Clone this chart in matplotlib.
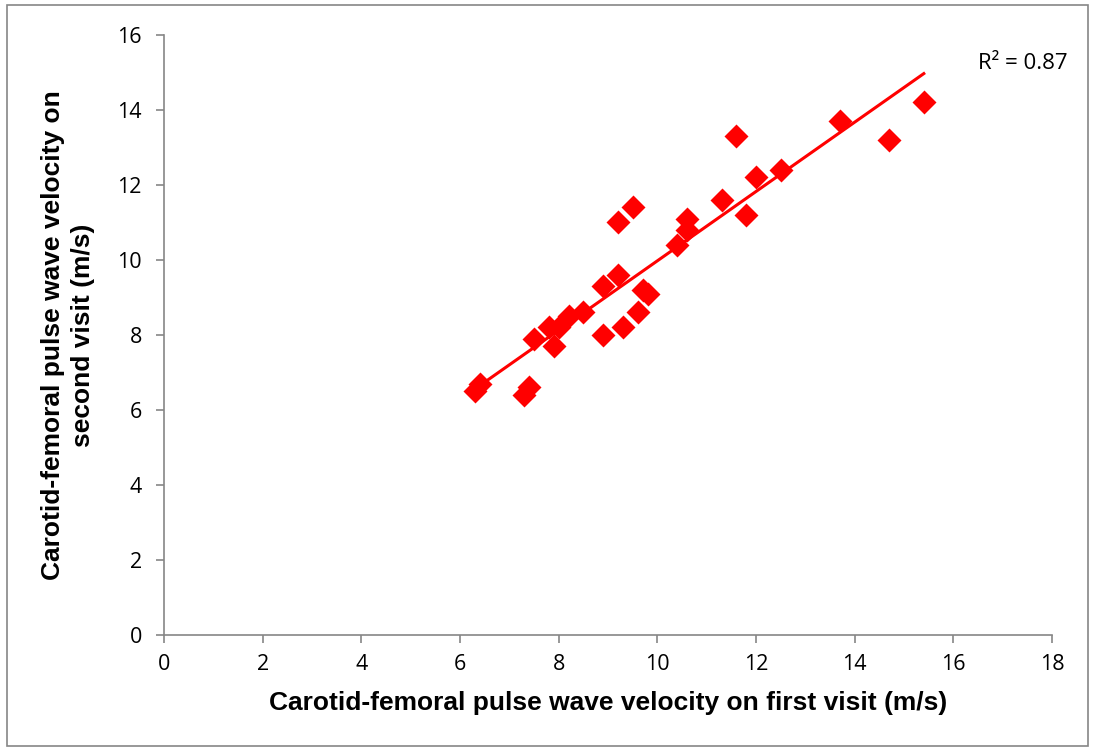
import numpy as np
import matplotlib.pyplot as plt
from matplotlib.patches import Rectangle

# pulse wave velocity, first visit vs second visit (m/s)
first_visit = [6.3, 6.4, 7.3, 7.4, 7.5, 7.9, 7.8, 8.0, 8.2, 8.5, 8.9, 8.9, 9.2, 9.2, 9.5,
               9.3, 9.6, 9.7, 9.8, 10.4, 10.6, 10.6, 11.3, 11.8, 12.0, 11.6, 12.5, 13.7,
               14.7, 15.4]
second_visit = [6.5, 6.7, 6.4, 6.6, 7.9, 7.7, 8.2, 8.2, 8.5, 8.6, 8.0, 9.3, 9.6, 11.0, 11.4,
                8.2, 8.6, 9.2, 9.1, 10.4, 10.8, 11.1, 11.6, 11.2, 12.2, 13.3, 12.4, 13.7,
                13.2, 14.2]
r2_label = "R\u00b2 = 0.87"

x = np.array(first_visit)
y = np.array(second_visit)
slope, intercept = np.polyfit(x, y, 1)
xfit = np.array([x.min(), x.max()])

fig = plt.figure(figsize=(10.95, 7.51), dpi=100)
ax = fig.add_axes([0.1498, 0.1545, 0.8110, 0.7989])

ax.plot(xfit, slope * xfit + intercept, color='#ff0000', lw=2.2, zorder=2)
ax.plot(x, y, 'D', color='#ff0000', ms=12, mec='none', zorder=3)

ax.set_xlim(0, 18)
ax.set_ylim(0, 16)
ax.set_xticks(range(0, 19, 2))
ax.set_yticks(range(0, 17, 2))

for s in ['top', 'right']:
    ax.spines[s].set_visible(False)
for s in ['left', 'bottom']:
    ax.spines[s].set_color('#868686')
    ax.spines[s].set_linewidth(1.2)
ax.tick_params(direction='out', length=6, width=1.2, color='#868686',
               labelsize=15.5, labelcolor='black', pad=8)
ax.tick_params(axis='y', pad=10)
for lab in ax.get_xticklabels() + ax.get_yticklabels():
    lab.set_family('Open Sans')

ax.set_xlabel("Carotid-femoral pulse wave velocity on first visit (m/s)",
              fontsize=19, fontweight='bold', family='Liberation Sans', labelpad=11)
ax.set_ylabel("Carotid-femoral pulse wave velocity on\nsecond visit (m/s)",
              fontsize=19, fontweight='bold', family='Liberation Sans', labelpad=16,
              linespacing=1.3)

ax.text(1.018, 0.953, r2_label, transform=ax.transAxes, fontsize=16,
        family='Open Sans', ha='right', va='center')

# outer frame like the exported chart
fig.patches.append(Rectangle((0.006, 0.006), 0.988, 0.988, transform=fig.transFigure,
                             fill=False, ec='#868686', lw=1.2))

fig.savefig('out.png', dpi=100)
